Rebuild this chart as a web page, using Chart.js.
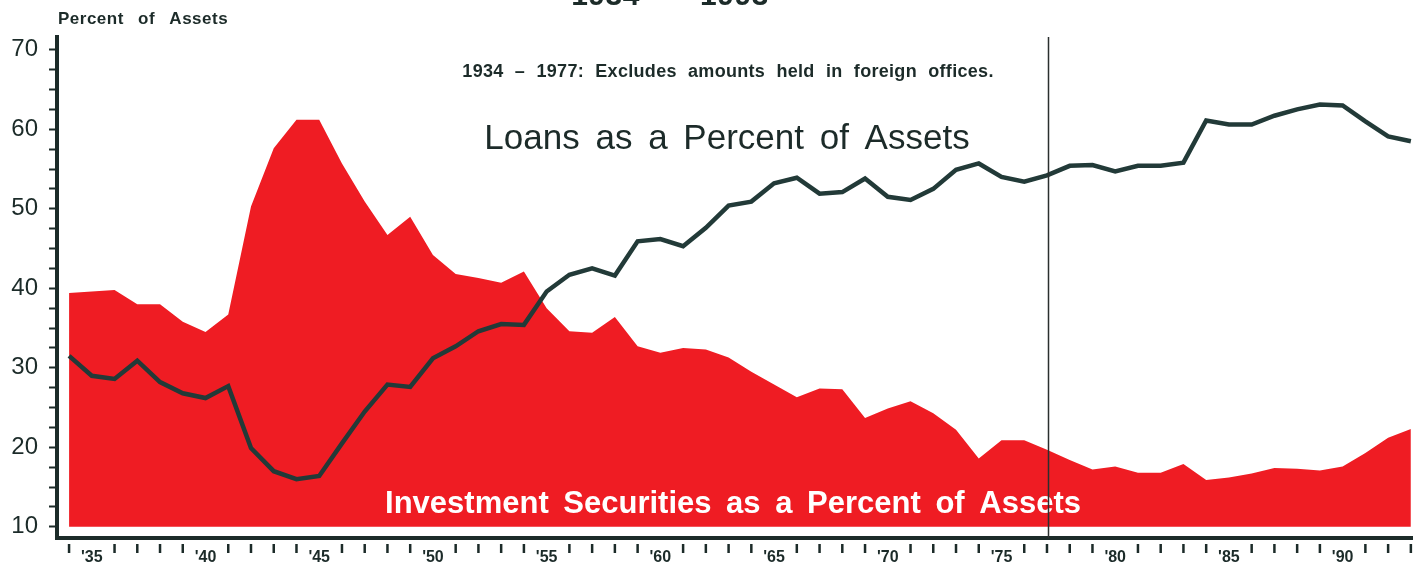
<!DOCTYPE html>
<html>
<head>
<meta charset="utf-8">
<script src="https://cdn.jsdelivr.net/npm/chart.js@4/dist/chart.umd.min.js"></script>
<style>
    body { margin: 0; background: #ffffff; }
    #wrap { width: 1419px; height: 565px; position: relative; }
</style>
</head>
<body>
<div id="wrap"><canvas id="chart"></canvas></div>
<script>
const YEARS = [
    1934, 1935, 1936, 1937, 1938, 1939, 1940, 1941, 1942, 1943,
    1944, 1945, 1946, 1947, 1948, 1949, 1950, 1951, 1952, 1953,
    1954, 1955, 1956, 1957, 1958, 1959, 1960, 1961, 1962, 1963,
    1964, 1965, 1966, 1967, 1968, 1969, 1970, 1971, 1972, 1973,
    1974, 1975, 1976, 1977, 1978, 1979, 1980, 1981, 1982, 1983,
    1984, 1985, 1986, 1987, 1988, 1989, 1990, 1991, 1992, 1993
];

// loans as a percent of assets
const LOANS = [
    31.5, 29.0, 28.6, 30.9, 28.2, 26.8, 26.2, 27.7, 19.9, 17.0,
    16.0, 16.4, 20.5, 24.5, 27.9, 27.6, 31.2, 32.7, 34.6, 35.5,
    35.4, 39.6, 41.7, 42.5, 41.6, 45.9, 46.2, 45.3, 47.6, 50.4,
    50.9, 53.2, 53.9, 51.9, 52.1, 53.8, 51.5, 51.1, 52.5, 54.9,
    55.7, 54.0, 53.4, 54.2, 55.4, 55.5, 54.7, 55.4, 55.4, 55.8,
    61.1, 60.6, 60.6, 61.7, 62.5, 63.1, 63.0, 61.0, 59.1, 58.5
];

// investment securities as a percent of assets
const SECURITIES = [
    39.4, 39.6, 39.8, 38.0, 38.0, 35.8, 34.5, 36.7, 50.3, 57.6,
    61.2, 61.2, 55.7, 50.9, 46.7, 49.0, 44.2, 41.8, 41.3, 40.7,
    42.1, 37.5, 34.6, 34.4, 36.4, 32.7, 31.9, 32.5, 32.3, 31.3,
    29.5, 27.9, 26.3, 27.4, 27.3, 23.7, 24.9, 25.8, 24.3, 22.2,
    18.6, 20.9, 20.9, 19.7, 18.4, 17.2, 17.6, 16.8, 16.8, 17.9,
    15.9, 16.2, 16.7, 17.4, 17.3, 17.1, 17.6, 19.3, 21.2, 22.3
];

const Y_TICKS = [10, 12.5, 15, 17.5, 20, 22.5, 25, 27.5, 30, 32.5, 35, 37.5, 40, 42.5, 45, 47.5, 50, 52.5, 55, 57.5, 60, 62.5, 65, 67.5, 70];
const Y_LABELS = [10, 20, 30, 40, 50, 60, 70];
const X_LABELS = [1935, 1940, 1945, 1950, 1955, 1960, 1965, 1970, 1975, 1980, 1985, 1990];
const BREAK_YEAR = 1977;

const TITLE = "1934 \u2014 1993";
const AXIS_TITLE = "Percent of Assets";
const NOTE = "1934 \u2013 1977: Excludes amounts held in foreign offices.";
const LOANS_LABEL = "Loans as a Percent of Assets";
const SECURITIES_LABEL = "Investment Securities as a Percent of Assets";

const DARK = "#1c2b29";
const RED = "#ef1c23";
const FONT = "'Liberation Sans', Arial, sans-serif";

function points(values) {
    return YEARS.map((y, i) => ({ x: y, y: values[i] }));
}

function spaced(ctx, letter, word) {
    ctx.letterSpacing = letter + "px";
    ctx.wordSpacing = word + "px";
}

// extra drawing: year ticks, break line, texts
const extras = {
    id: "extras",
    afterDatasetsDraw(chart) {
        const ctx = chart.ctx;
        const area = chart.chartArea;
        const xs = chart.scales.x;
        ctx.save();

        // investment securities label inside the red area
        ctx.fillStyle = "#ffffff";
        ctx.font = "bold 31px " + FONT;
        spaced(ctx, 0, 6);
        ctx.textAlign = "center";
        ctx.textBaseline = "alphabetic";
        ctx.fillText(SECURITIES_LABEL, 733, 513);

        // break line
        const bx = Math.round(xs.getPixelForValue(BREAK_YEAR)) + 1.5;
        ctx.strokeStyle = "#2a2f2e";
        ctx.lineWidth = 1.5;
        ctx.beginPath();
        ctx.moveTo(bx, area.top);
        ctx.lineTo(bx, area.bottom);
        ctx.stroke();
        ctx.restore();
    },
    afterDraw(chart) {
        const ctx = chart.ctx;
        const area = chart.chartArea;
        const xs = chart.scales.x;
        ctx.save();

        // yearly tick marks under the x axis
        ctx.strokeStyle = DARK;
        ctx.lineWidth = 2.5;
        YEARS.forEach(y => {
            if (X_LABELS.includes(y)) return;
            const px = xs.getPixelForValue(y);
            ctx.beginPath();
            ctx.moveTo(px, area.bottom + 6);
            ctx.lineTo(px, area.bottom + 15);
            ctx.stroke();
        });

        ctx.fillStyle = DARK;
        ctx.textBaseline = "alphabetic";

        // title, cut off at the top
        ctx.textAlign = "center";
        ctx.font = "bold 30px " + FONT;
        spaced(ctx, 0.5, 6);
        ctx.fillText(TITLE, 670, 5);

        // axis title
        ctx.textAlign = "left";
        ctx.font = "bold 17px " + FONT;
        spaced(ctx, 0.5, 9);
        ctx.fillText(AXIS_TITLE, 58, 24);

        // note
        ctx.textAlign = "center";
        ctx.font = "bold 18px " + FONT;
        spaced(ctx, 0.3, 6);
        ctx.fillText(NOTE, 728, 77);

        // loans label
        ctx.font = "35px " + FONT;
        spaced(ctx, 0, 6);
        ctx.fillText(LOANS_LABEL, 727, 149);

        ctx.restore();
    }
};

function main() {
    Chart.defaults.font.family = FONT;
    Chart.defaults.color = DARK;

    const canvas = document.getElementById("chart").getContext("2d");

    new Chart(canvas, {
        type: "line",
        data: {
            datasets: [
                {
                    label: LOANS_LABEL,
                    data: points(LOANS),
                    borderColor: "#223a38",
                    borderWidth: 4.5,
                    pointRadius: 0,
                    tension: 0,
                    fill: false,
                    order: 0
                },
                {
                    label: SECURITIES_LABEL,
                    data: points(SECURITIES),
                    borderWidth: 0,
                    borderColor: RED,
                    backgroundColor: RED,
                    pointRadius: 0,
                    tension: 0,
                    fill: { value: 10 },
                    order: 1
                }
            ]
        },
        options: {
            responsive: true,
            maintainAspectRatio: false,
            animation: false,
            layout: { padding: { top: 37, right: 7, left: 0, bottom: 0 } },
            plugins: {
                legend: { display: false },
                tooltip: { enabled: false }
            },
            scales: {
                x: {
                    type: "linear",
                    min: 1933.47,
                    max: 1993.05,
                    afterBuildTicks: scale => {
                        scale.ticks = X_LABELS.map(v => ({ value: v }));
                    },
                    afterFit: scale => { scale.height = 27; },
                    grid: { display: false },
                    border: { display: true, color: DARK, width: 4 },
                    ticks: {
                        autoSkip: false,
                        maxRotation: 0,
                        padding: 2,
                        color: DARK,
                        font: { size: 16, weight: "bold" },
                        callback: v => "'" + String(v).slice(2)
                    }
                },
                y: {
                    min: 8.6,
                    max: 71.6,
                    afterBuildTicks: scale => {
                        scale.ticks = Y_TICKS.map(v => ({ value: v }));
                    },
                    afterFit: scale => { scale.width = 57; },
                    grid: {
                        drawOnChartArea: false,
                        drawTicks: true,
                        tickLength: 8,
                        tickWidth: 2,
                        tickColor: DARK
                    },
                    border: { display: true, color: DARK, width: 4 },
                    ticks: {
                        autoSkip: false,
                        padding: 11,
                        color: DARK,
                        font: { size: 24 },
                        callback: v => Y_LABELS.includes(v) ? String(v) : ""
                    }
                }
            }
        },
        plugins: [extras]
    });
}

main();
</script>
</body>
</html>
